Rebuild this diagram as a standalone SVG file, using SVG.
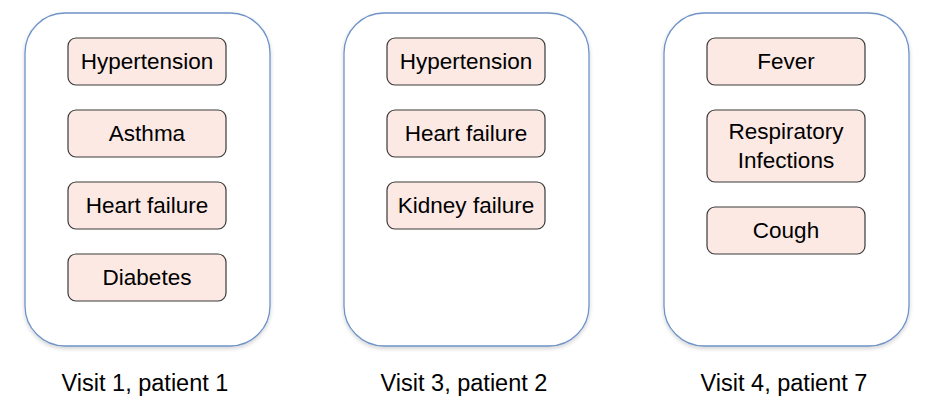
<svg xmlns="http://www.w3.org/2000/svg" width="925" height="405" viewBox="0 0 925 405">
<defs>
<filter id="sh" x="-10%" y="-10%" width="120%" height="120%">
<feGaussianBlur in="SourceAlpha" stdDeviation="2"/>
<feOffset dx="0" dy="2" result="b"/>
<feComponentTransfer><feFuncA type="linear" slope="0.18"/></feComponentTransfer>
<feMerge><feMergeNode/><feMergeNode in="SourceGraphic"/></feMerge>
</filter>
</defs>
<style>
.card{fill:#fff;stroke:#6f93c8;stroke-width:1.3;filter:url(#sh)}
.item{fill:#fce9e4;stroke:#3a3a3a;stroke-width:1.2}
text{font-family:"Liberation Sans",Arial,sans-serif;font-size:22.5px;fill:#000;text-anchor:middle}
text.lbl{font-size:23.5px}
</style>
<g id="card1">
<rect class="card" x="25" y="13" width="245" height="333" rx="40"/>
<g id="c1-hypertension"><rect class="item" x="68" y="38" width="158" height="47" rx="8"/><text x="147" y="69">Hypertension</text></g>
<g id="c1-asthma"><rect class="item" x="68" y="110" width="158" height="47" rx="8"/><text x="147" y="141">Asthma</text></g>
<g id="c1-heart"><rect class="item" x="68" y="182" width="158" height="47" rx="8"/><text x="147" y="213">Heart failure</text></g>
<g id="c1-diabetes"><rect class="item" x="68" y="254" width="158" height="47" rx="8"/><text x="147" y="285">Diabetes</text></g>
<text class="lbl" x="145" y="391">Visit 1, patient 1</text>
</g>
<g id="card2">
<rect class="card" x="344" y="13" width="245" height="333" rx="40"/>
<g id="c2-hypertension"><rect class="item" x="387" y="38" width="158" height="47" rx="8"/><text x="466" y="69">Hypertension</text></g>
<g id="c2-heart"><rect class="item" x="387" y="110" width="158" height="47" rx="8"/><text x="466" y="141">Heart failure</text></g>
<g id="c2-kidney"><rect class="item" x="387" y="182" width="158" height="47" rx="8"/><text x="466" y="213">Kidney failure</text></g>
<text class="lbl" x="464" y="391">Visit 3, patient 2</text>
</g>
<g id="card3">
<rect class="card" x="664" y="13" width="245" height="333" rx="40"/>
<g id="c3-fever"><rect class="item" x="707" y="38" width="158" height="47" rx="8"/><text x="786" y="69">Fever</text></g>
<g id="c3-resp"><rect class="item" x="707" y="110" width="158" height="72" rx="8"/><text x="786" y="139">Respiratory</text><text x="786" y="168">Infections</text></g>
<g id="c3-cough"><rect class="item" x="707" y="207" width="158" height="47" rx="8"/><text x="786" y="238">Cough</text></g>
<text class="lbl" x="784" y="391">Visit 4, patient 7</text>
</g>
<g id="connectors"></g>
</svg>
